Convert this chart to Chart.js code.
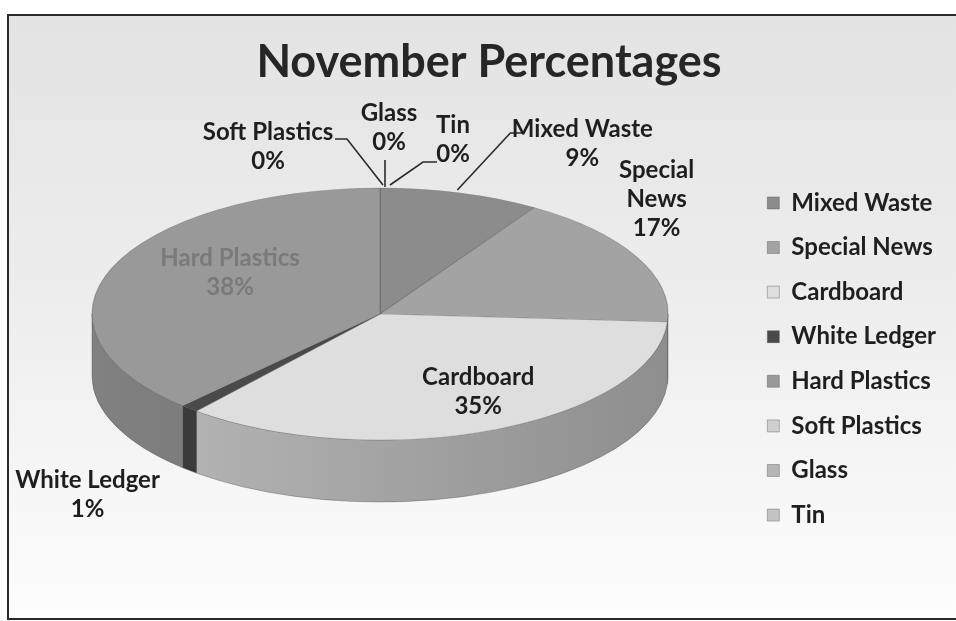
<!DOCTYPE html>
<html>
<head>
<meta charset="utf-8">
<title>November Percentages</title>
<script src="https://cdn.jsdelivr.net/npm/chart.js@4.4.0/dist/chart.umd.min.js"></script>
<style>
  html, body { margin: 0; padding: 0; background: #fff; }
  #chart { display: block; }
</style>
</head>
<body>
<canvas id="chart" width="956" height="621"></canvas>
<script>
// Waste stream shares for November (percent)
const categories = ["Mixed Waste", "Special News", "Cardboard", "White Ledger", "Hard Plastics", "Soft Plastics", "Glass", "Tin"];
const shares = [9, 17, 35, 1, 38, 0, 0, 0];
const faceColors = ["#8c8c8c", "#a3a3a3", "#dedede", "#4a4a4a", "#999999", "#cfcfcf", "#b5b5b5", "#c4c4c4"];

// tilted pie: ellipse centre, radii and wall depth on screen
const view = { cx: 380, cy: 314, rx: 288, ry: 126, depth: 62 };

// where each data label sits relative to its slice anchor
// at: "rim" = mid angle on the outer edge, "in" = half way in
const labelLayout = [
  { at: "rim", dx: 122, dy: -64, wrap: false, leader: [[-3, -3], [50, -60], [63, -60]] },
  { at: "rim", dx: 20, dy: -87, wrap: true },
  { at: "in", dx: 41, dy: 5, wrap: false },
  { at: "rim", dx: -102, dy: 72, wrap: false },
  { at: "in", dx: -16, dy: -33, wrap: false, color: "#7a7a7a" },
  { at: "rim", dx: -112, dy: -56, wrap: false, leader: [[3, -3], [-33, -49], [-45, -49]] },
  { at: "rim", dx: 9, dy: -75, wrap: false, leader: [[5, -1], [5, -28]] },
  { at: "rim", dx: 73, dy: -63, wrap: false, leader: [[10, -3], [43, -26], [57, -26]] },
];

function shade(hex, f) {
  const n = parseInt(hex.slice(1), 16);
  const r = Math.round(((n >> 16) & 255) * f);
  const g = Math.round(((n >> 8) & 255) * f);
  const b = Math.round((n & 255) * f);
  return `rgb(${r},${g},${b})`;
}

function project(angle, k) {
  return {
    x: view.cx + k * view.rx * Math.cos(angle),
    y: view.cy + k * view.ry * Math.sin(angle),
  };
}

const backdrop = {
  id: "backdrop",
  beforeDraw(chart) {
    const ctx = chart.ctx;
    const g = ctx.createLinearGradient(0, 15, 0, 619);
    g.addColorStop(0, "#e3e3e3");
    g.addColorStop(0.5, "#eeeeee");
    g.addColorStop(1, "#fdfdfd");
    ctx.save();
    ctx.fillStyle = g;
    ctx.fillRect(8, 15, chart.width - 8, 604);
    ctx.strokeStyle = "#2a2a2a";
    ctx.lineWidth = 2;
    ctx.beginPath();
    ctx.moveTo(chart.width, 15);
    ctx.lineTo(8, 15);
    ctx.lineTo(8, 619);
    ctx.lineTo(chart.width, 619);
    ctx.stroke();
    ctx.restore();
  },
};

// squashes the pie into an ellipse and adds the front wall
const tilt = {
  id: "tilt",
  beforeDatasetsDraw(chart) {
    const ctx = chart.ctx;
    const meta = chart.getDatasetMeta(0);
    const first = meta.data[0];
    const { x, y, outerRadius } = first.getProps(["x", "y", "outerRadius"], true);

    meta.data.forEach((arc, i) => {
      const { startAngle, endAngle } = arc.getProps(["startAngle", "endAngle"], true);
      const s = Math.max(startAngle, 0);
      const e = Math.min(endAngle, Math.PI);
      if (e <= s) return;
      const g = ctx.createLinearGradient(view.cx - view.rx, 0, view.cx + view.rx, 0);
      g.addColorStop(0, shade(faceColors[i], 0.84));
      g.addColorStop(1, shade(faceColors[i], 0.64));
      ctx.save();
      ctx.beginPath();
      ctx.ellipse(view.cx, view.cy, view.rx, view.ry, 0, s, e, false);
      ctx.ellipse(view.cx, view.cy + view.depth, view.rx, view.ry, 0, e, s, true);
      ctx.closePath();
      ctx.fillStyle = g;
      ctx.fill();
      ctx.strokeStyle = "rgba(70,70,70,0.35)";
      ctx.lineWidth = 1;
      ctx.stroke();
      ctx.restore();
    });

    ctx.save();
    ctx.translate(view.cx, view.cy);
    ctx.scale(view.rx / outerRadius, view.ry / outerRadius);
    ctx.translate(-x, -y);
  },
  afterDatasetsDraw(chart) {
    chart.ctx.restore();
  },
};

const sliceLabels = {
  id: "sliceLabels",
  afterDraw(chart) {
    const ctx = chart.ctx;
    const meta = chart.getDatasetMeta(0);
    ctx.save();
    ctx.font = "bold 24px Lato";
    ctx.textAlign = "center";
    ctx.textBaseline = "middle";
    meta.data.forEach((arc, i) => {
      const spec = labelLayout[i];
      const { startAngle, endAngle } = arc.getProps(["startAngle", "endAngle"], true);
      const mid = (startAngle + endAngle) / 2;
      const p = project(mid, spec.at === "in" ? 0.5 : 1);

      if (spec.leader) {
        ctx.strokeStyle = "#2b2b2b";
        ctx.lineWidth = 1.6;
        ctx.beginPath();
        spec.leader.forEach(([lx, ly], j) => {
          if (j === 0) ctx.moveTo(p.x + lx, p.y + ly);
          else ctx.lineTo(p.x + lx, p.y + ly);
        });
        ctx.stroke();
      }

      const name = categories[i];
      const lines = spec.wrap ? name.split(" ") : [name];
      lines.push(Math.round(shares[i]) + "%");
      ctx.fillStyle = spec.color || "#1e1e1e";
      lines.forEach((t, j) => {
        ctx.fillText(t, p.x + spec.dx, p.y + spec.dy + j * 29);
      });
    });
    ctx.restore();
  },
};

new Chart(document.getElementById("chart"), {
  type: "pie",
  data: {
    labels: categories,
    datasets: [
      {
        data: shares,
        backgroundColor: faceColors,
        borderColor: "rgba(70,70,70,0.35)",
        borderWidth: 1,
      },
    ],
  },
  options: {
    responsive: false,
    animation: false,
    layout: { padding: { left: 32, right: 10, top: 0, bottom: 2 } },
    plugins: {
      title: {
        display: true,
        text: "November Percentages",
        color: "#262626",
        font: { family: "Lato", size: 45, weight: "bold" },
        padding: { top: 35, bottom: 10 },
      },
      legend: {
        position: "right",
        fullSize: false,
        labels: {
          boxWidth: 12,
          boxHeight: 12,
          padding: 20.6,
          color: "#1f1f1f",
          font: { family: "Lato", size: 24, weight: "bold" },
        },
      },
      tooltip: { enabled: false },
    },
  },
  plugins: [backdrop, tilt, sliceLabels],
});
</script>
</body>
</html>
